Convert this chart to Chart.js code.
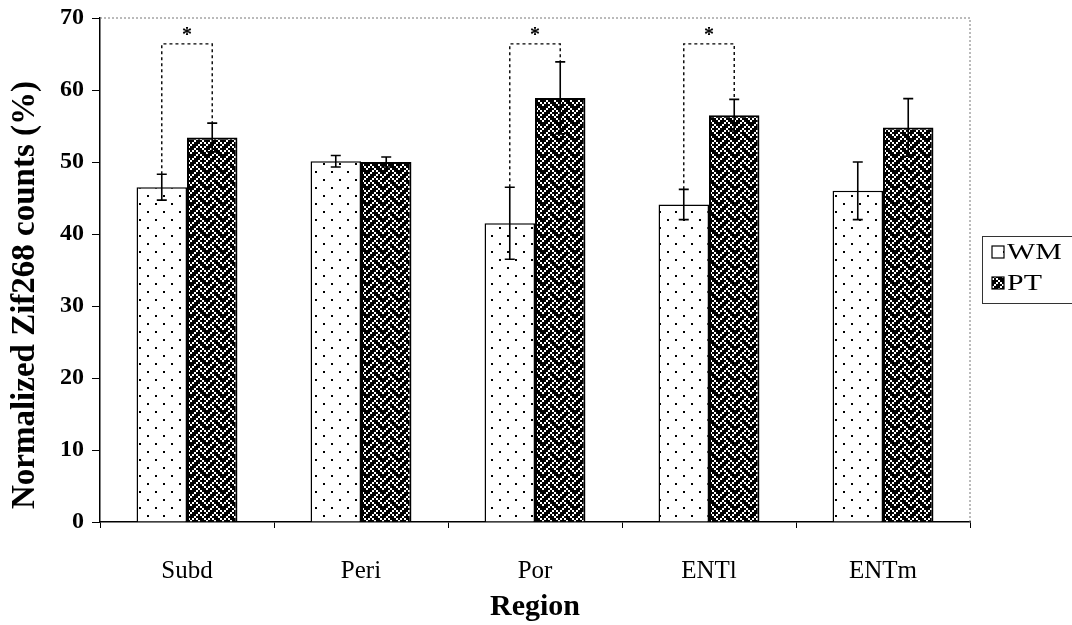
<!DOCTYPE html>
<html>
<head>
<meta charset="utf-8">
<script src="https://cdn.jsdelivr.net/npm/chart.js@4"></script>
<style>
  html, body { margin: 0; padding: 0; background: #fff; }
  #wrap { width: 1072px; height: 625px; }
</style>
</head>
<body>
<div id="wrap"><canvas id="chart" width="1072" height="625"></canvas></div>
<script>
// Data
const categories = ['Subd', 'Peri', 'Por', 'ENTl', 'ENTm'];
const wmValues = [46.5, 50.1, 41.5, 44.1, 46.0];
const ptValues = [53.4, 50.0, 58.9, 56.5, 54.8];
const wmErrors = [1.8, 0.8, 5.0, 2.1, 4.0];
const ptErrors = [2.0, 0.7, 5.0, 2.2, 4.0];
const sigCategories = ['Subd', 'Por', 'ENTl'];
const bracketLevel = 66.4;
const yTicks = [0, 10, 20, 30, 40, 50, 60, 70];
const yTitle = 'Normalized Zif268 counts (%)';

const serif = '"Liberation Serif", "Times New Roman", serif';

// Fill patterns: sparse dots for WM, weave (white on black) for PT
function dotPattern() {
    const c = document.createElement('canvas');
    c.width = 16; c.height = 16;
    const g = c.getContext('2d');
    g.fillStyle = '#fff';
    g.fillRect(0, 0, 16, 16);
    g.fillStyle = '#000';
    g.fillRect(3, 3, 2, 2);
    g.fillRect(11, 11, 2, 2);
    return g.createPattern(c, 'repeat');
}

// 8x8 weave bitmap, each bit drawn as a 2px cell
const weaveBits = [0x11, 0x2a, 0x44, 0xa2, 0x11, 0x28, 0x44, 0x8a];
function weavePattern() {
    const cell = 2, n = 8;
    const c = document.createElement('canvas');
    c.width = cell * n; c.height = cell * n;
    const g = c.getContext('2d');
    g.fillStyle = '#000';
    g.fillRect(0, 0, c.width, c.height);
    g.fillStyle = '#fff';
    weaveBits.forEach((row, r) => {
        for (let b = 0; b < n; b++) {
            if (row & (0x80 >> b)) g.fillRect(b * cell, r * cell, cell, cell);
        }
    });
    return g.createPattern(c, 'repeat');
}

const wmFill = dotPattern();
const ptFill = weavePattern();

// Plot frame: dotted grey line on top and right, plus the y title
const framePlugin = {
    id: 'frame',
    beforeDatasetsDraw(chart) {
        const { ctx, chartArea: a } = chart;
        ctx.save();
        ctx.strokeStyle = '#777';
        ctx.lineWidth = 1;
        ctx.setLineDash([2, 2]);
        ctx.beginPath();
        ctx.moveTo(a.left, a.top);
        ctx.lineTo(a.right, a.top);
        ctx.lineTo(a.right, a.bottom);
        ctx.stroke();
        ctx.restore();
    },
    afterDraw(chart) {
        const { ctx } = chart;
        ctx.save();
        ctx.translate(25, 295);
        ctx.rotate(-Math.PI / 2);
        ctx.fillStyle = '#000';
        ctx.font = 'bold 33px ' + serif;
        ctx.textAlign = 'center';
        ctx.textBaseline = 'middle';
        ctx.fillText(yTitle, 0, 0);
        ctx.restore();
    }
};

// Error bars and significance brackets
const errorPlugin = {
    id: 'errors',
    afterDatasetsDraw(chart) {
        const { ctx } = chart;
        const y = chart.scales.y;
        const errs = [wmErrors, ptErrors];
        ctx.save();
        ctx.strokeStyle = '#000';
        ctx.lineWidth = 1.6;
        chart.data.datasets.forEach((ds, di) => {
            const meta = chart.getDatasetMeta(di);
            meta.data.forEach((bar, i) => {
                const v = ds.data[i], e = errs[di][i];
                const yt = y.getPixelForValue(v + e);
                const yb = y.getPixelForValue(v - e);
                ctx.beginPath();
                ctx.moveTo(bar.x, yt); ctx.lineTo(bar.x, yb);
                ctx.moveTo(bar.x - 5, yt); ctx.lineTo(bar.x + 5, yt);
                ctx.moveTo(bar.x - 5, yb); ctx.lineTo(bar.x + 5, yb);
                ctx.stroke();
            });
        });

        const m0 = chart.getDatasetMeta(0), m1 = chart.getDatasetMeta(1);
        const yTop = y.getPixelForValue(bracketLevel);
        ctx.lineWidth = 1.4;
        ctx.setLineDash([3, 3]);
        sigCategories.forEach(cat => {
            const i = categories.indexOf(cat);
            const x0 = m0.data[i].x, x1 = m1.data[i].x;
            const y0 = y.getPixelForValue(wmValues[i] + wmErrors[i]);
            const y1 = y.getPixelForValue(ptValues[i] + ptErrors[i]);
            ctx.beginPath();
            ctx.moveTo(x0, y0); ctx.lineTo(x0, yTop);
            ctx.lineTo(x1, yTop); ctx.lineTo(x1, y1);
            ctx.stroke();
        });
        ctx.setLineDash([]);
        ctx.fillStyle = '#000';
        ctx.font = 'bold 20px ' + serif;
        ctx.textAlign = 'center';
        ctx.textBaseline = 'middle';
        sigCategories.forEach(cat => {
            const i = categories.indexOf(cat);
            const xm = (m0.data[i].x + m1.data[i].x) / 2;
            ctx.fillText('*', xm, yTop - 8);
        });
        ctx.restore();
    }
};

// Boxed legend on the right, cut off by the page edge
const legendPlugin = {
    id: 'boxLegend',
    afterDraw(chart) {
        const { ctx } = chart;
        const left = 982, top = 236;
        ctx.save();
        ctx.strokeStyle = '#333';
        ctx.lineWidth = 1;
        ctx.strokeRect(left + 0.5, top + 0.5, 120, 67);
        chart.data.datasets.forEach((ds, i) => {
            const cy = top + 16 + i * 31;
            ctx.fillStyle = ds.backgroundColor;
            ctx.fillRect(left + 10, cy - 6, 12, 12);
            ctx.strokeStyle = '#000';
            ctx.lineWidth = 1.2;
            ctx.strokeRect(left + 10, cy - 6, 12, 12);
            ctx.save();
            ctx.translate(left + 25, cy + 1);
            ctx.scale(1.3, 1);
            ctx.font = '23px ' + serif;
            ctx.textBaseline = 'middle';
            ctx.fillStyle = '#000';
            ctx.fillText(ds.label, 0, 0);
            ctx.restore();
        });
        ctx.restore();
    }
};

new Chart(document.getElementById('chart'), {
    type: 'bar',
    data: {
        labels: categories,
        datasets: [
            {
                label: 'WM',
                data: wmValues,
                backgroundColor: wmFill,
                borderColor: '#000',
                borderWidth: 1.5,
                categoryPercentage: 0.58,
                barPercentage: 1.0
            },
            {
                label: 'PT',
                data: ptValues,
                backgroundColor: ptFill,
                borderColor: '#000',
                borderWidth: 2,
                categoryPercentage: 0.58,
                barPercentage: 1.0
            }
        ]
    },
    options: {
        responsive: false,
        animation: false,
        layout: { padding: { top: 18, right: 102, left: 0, bottom: 0 } },
        plugins: {
            legend: { display: false },
            tooltip: { enabled: false }
        },
        scales: {
            x: {
                grid: {
                    offset: true,
                    drawOnChartArea: false,
                    tickLength: 6,
                    color: '#000'
                },
                border: { color: '#000', width: 1.5 },
                ticks: {
                    color: '#000',
                    font: { family: serif, size: 25 },
                    padding: 28
                },
                title: {
                    display: true,
                    text: 'Region',
                    color: '#000',
                    font: { family: serif, size: 30, weight: 'bold' },
                    padding: { top: 2, bottom: 0 }
                },
                afterFit(scale) {
                    scale.height = 103;
                    scale.paddingLeft = 0;
                    scale.paddingRight = 0;
                }
            },
            y: {
                min: 0,
                max: 70,
                afterBuildTicks(scale) {
                    scale.ticks = yTicks.map(v => ({ value: v }));
                },
                grid: {
                    drawOnChartArea: false,
                    tickLength: 8,
                    color: '#000'
                },
                border: { color: '#000', width: 1.5 },
                ticks: {
                    color: '#000',
                    font: { family: serif, size: 24, weight: 'bold' },
                    padding: 8
                },
                afterFit(scale) {
                    scale.width = 100;
                    scale.paddingTop = 0;
                    scale.paddingBottom = 0;
                }
            }
        }
    },
    plugins: [framePlugin, errorPlugin, legendPlugin]
});
</script>
</body>
</html>
